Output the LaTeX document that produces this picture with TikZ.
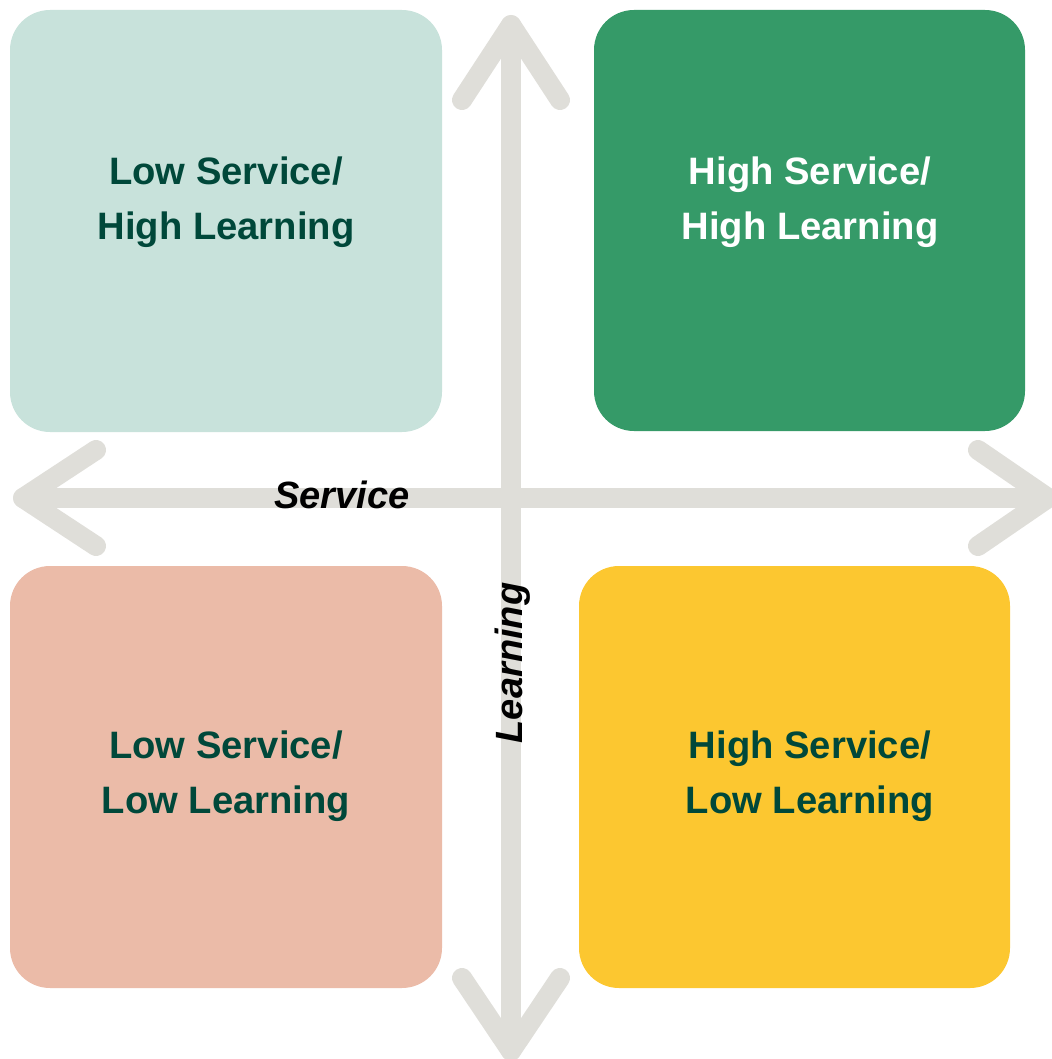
\documentclass[tikz,border=0pt]{standalone}
\usepackage{fontspec}
\setmainfont{Liberation Sans}
\usepackage{tikz}
\usetikzlibrary{positioning}
\definecolor{axisgray}{HTML}{DFDED9}
\definecolor{mint}{HTML}{C8E2DB}
\definecolor{forest}{HTML}{359A68}
\definecolor{salmon}{HTML}{EBBBA8}
\definecolor{sun}{HTML}{FCC730}
\definecolor{darkgreen}{HTML}{00483A}
\tikzstyle{quad} = [rectangle, inner sep=0pt, outer sep=0pt, rounded corners=20pt, minimum width=216pt, minimum height=211pt]
\tikzstyle{quadtext} = [align=center, font=\fontsize{19.1}{27.5}\selectfont\bfseries, text=darkgreen]
\tikzstyle{axis} = [draw=axisgray, line width=10pt, line cap=round, line join=round]
\tikzstyle{axislabel} = [font=\fontsize{19}{22}\selectfont\bfseries\itshape, text=black, inner sep=0pt]

\begin{document}
\begin{tikzpicture}[x=0.5pt, y=-0.5pt]
  \useasboundingbox (0,0) rectangle (1052,1059);

  % Puntas de los ejes
  \coordinate (top) at (511,25);
  \coordinate (bottom) at (511,1051);
  \coordinate (left) at (23,498);
  \coordinate (right) at (1048,498);
  \coordinate (topl) at (462,100);
  \coordinate (topr) at (560,100);
  \coordinate (botl) at (462,978);
  \coordinate (botr) at (560,978);
  \coordinate (leftu) at (96,450);
  \coordinate (leftd) at (96,546);
  \coordinate (rightu) at (978,450);
  \coordinate (rightd) at (978,546);

  % Ejes
  \draw [axis] (left) -- (right);
  \draw [axis] (top) -- (bottom);
  \draw [axis] (topl) -- (top) -- (topr);
  \draw [axis] (botl) -- (bottom) -- (botr);
  \draw [axis] (leftu) -- (left) -- (leftd);
  \draw [axis] (rightu) -- (right) -- (rightd);

  % Cuadrantes
  \node (lowhigh) [quad, fill=mint] at (226,221) {};
  \node (highhigh) [quad, fill=forest, minimum width=215.5pt, minimum height=210.5pt] at (809.5,220.5) {};
  \node (lowlow) [quad, fill=salmon] at (226,777) {};
  \node (highlow) [quad, fill=sun, minimum width=215.5pt] at (794.5,777) {};

  % Textos
  \node (lowhightext) [quadtext] at (226,202) {Low Service/\\High Learning};
  \node (highhightext) [quadtext, text=white] at (810,202) {High Service/\\High Learning};
  \node (lowlowtext) [quadtext] at (226,776) {Low Service/\\Low Learning};
  \node (highlowtext) [quadtext] at (810,776) {High Service/\\Low Learning};

  % Etiquetas de los ejes
  \node (service) [axislabel, anchor=base] at (342,508) {Service};
  \node (learning) [axislabel, anchor=base, rotate=90] at (522,663) {Learning};

\end{tikzpicture}
\end{document}
